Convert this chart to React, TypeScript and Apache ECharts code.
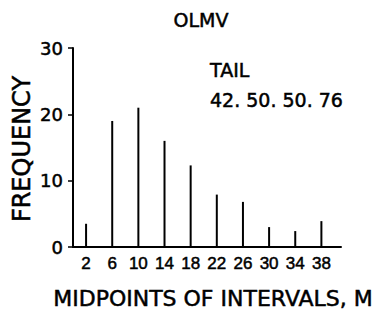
import React, { useEffect, useRef } from "react";
import * as echarts from "echarts";

const midpoints = [2, 6, 10, 14, 18, 22, 26, 30, 34, 38];
const frequencies = [3.5, 19, 21, 16, 12.3, 7.9, 6.8, 3.0, 2.4, 3.9];
const yTicks = [0, 10, 20, 30];
const titleText = "OLMV";
const tailLabel = "TAIL";
const tailValues = "42. 50. 50. 76";
const xTitle = "MIDPOINTS OF INTERVALS, M";
const yTitle = "FREQUENCY";

export default function App() {
  const ref = useRef<HTMLDivElement>(null);
  useEffect(() => {
    document.body.style.margin = "0";
    if (!ref.current) return;
    const chart = echarts.init(ref.current, undefined, { renderer: "svg" });
    const font = "DejaVu Sans, Liberation Sans, Arial, sans-serif";
    const txt = (text: string, x: number, y: number, size: number, align = "left", extra: any = {}) => ({
      type: "text",
      x,
      y,
      ...extra,
      style: {
        text,
        fill: "#000",
        font: `${size}px ${font}`,
        align,
        verticalAlign: "middle",
        stroke: "#000",
        lineWidth: 0.5,
      },
    });
    chart.setOption({
      animation: false,
      backgroundColor: "#fff",
      grid: { left: 73, right: 44, top: 48, bottom: 68 },
      xAxis: {
        type: "value",
        min: 0,
        max: 41,
        interval: 1,
        axisLine: { show: true, onZero: false, lineStyle: { color: "#000", width: 2 } },
        axisTick: { show: false },
        splitLine: { show: false },
        axisLabel: {
          color: "#000",
          fontFamily: "Liberation Sans, Arial, sans-serif",
          fontSize: 17,
          margin: 8,
          textBorderColor: "#000",
          textBorderWidth: 0.5,
          showMinLabel: false,
          showMaxLabel: false,
          formatter: (v: number) => (midpoints.includes(v) ? String(v) : ""),
        },
      },
      yAxis: {
        type: "value",
        min: yTicks[0],
        max: yTicks[yTicks.length - 1],
        interval: 10,
        axisLine: { show: true, lineStyle: { color: "#000", width: 2 } },
        axisTick: { show: true, inside: false, length: 5, lineStyle: { color: "#000", width: 1.5 } },
        splitLine: { show: false },
        axisLabel: {
          color: "#000",
          fontFamily: font,
          fontSize: 18,
          margin: 10,
          textBorderColor: "#000",
          textBorderWidth: 0.5,
        },
      },
      series: [
        {
          type: "bar",
          barWidth: 2,
          itemStyle: { color: "#000" },
          data: midpoints.map((m, i) => [m, frequencies[i]]),
        },
      ],
      graphic: [
        txt(titleText, 201, 20, 19, "center"),
        txt(tailLabel, 210, 70, 19),
        txt(tailValues, 210, 100, 19),
        txt(xTitle, 213, 298, 22, "center"),
        txt(yTitle, 22, 149, 24, "center", { rotation: Math.PI / 2 }),
      ],
    });
    return () => chart.dispose();
  }, []);
  return <div ref={ref} style={{ width: 385, height: 315 }} />;
}
